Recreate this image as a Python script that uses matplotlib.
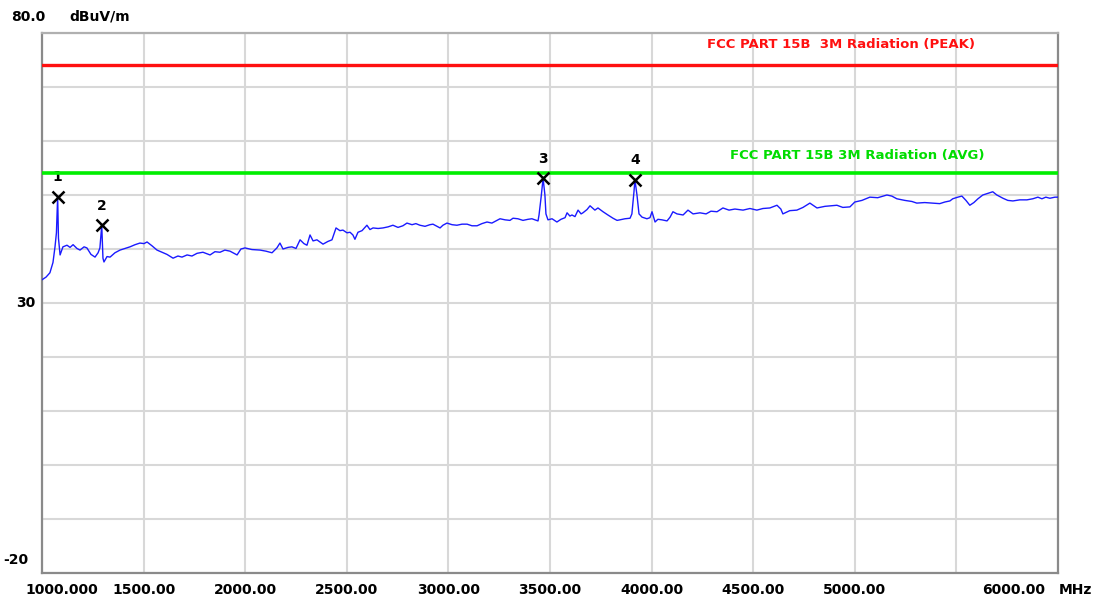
import matplotlib
matplotlib.use("Agg")
import matplotlib.pyplot as plt
from matplotlib.transforms import ScaledTranslation

# trace (MHz, dBuV/m)
freq = [1000, 1020, 1039, 1054, 1064, 1071, 1077, 1081, 1089, 1103, 1123, 1138, 1153, 1172,
        1187, 1207, 1221, 1241, 1261, 1276, 1285, 1294, 1300, 1305, 1320, 1335, 1359, 1384,
        1408, 1433, 1458, 1482, 1502, 1517, 1541, 1566, 1591, 1615, 1645, 1669, 1689, 1714,
        1738, 1763, 1792, 1827, 1851, 1876, 1900, 1925, 1960, 1979, 1999, 2033, 2073, 2102,
        2132, 2156, 2171, 2186, 2211, 2230, 2250, 2270, 2289, 2304, 2319, 2334, 2353, 2368,
        2383, 2407, 2427, 2447, 2466, 2481, 2501, 2516, 2530, 2540, 2555, 2575, 2599, 2614,
        2629, 2654, 2678, 2703, 2727, 2752, 2776, 2796, 2821, 2840, 2860, 2885, 2909, 2924,
        2944, 2959, 2973, 2993, 3018, 3042, 3067, 3092, 3116, 3141, 3165, 3190, 3214, 3239,
        3254, 3279, 3303, 3318, 3342, 3367, 3392, 3411, 3426, 3441, 3446, 3456, 3466, 3475,
        3480, 3490, 3510, 3534, 3554, 3574, 3584, 3598, 3608, 3623, 3638, 3653, 3662, 3682,
        3697, 3712, 3721, 3736, 3761, 3785, 3810, 3830, 3844, 3869, 3894, 3903, 3913, 3918,
        3928, 3938, 3953, 3977, 3992, 4002, 4017, 4031, 4051, 4076, 4091, 4105, 4125, 4155,
        4179, 4204, 4238, 4268, 4292, 4322, 4351, 4381, 4410, 4450, 4484, 4518, 4548, 4582,
        4617, 4636, 4646, 4680, 4715, 4745, 4779, 4814, 4853, 4882, 4912, 4941, 4976, 5000,
        5035, 5074, 5113, 5158, 5182, 5207, 5246, 5281, 5305, 5344, 5384, 5418, 5443, 5468,
        5482, 5507, 5527, 5547, 5566, 5586, 5606, 5630, 5655, 5679, 5699, 5729, 5753, 5778,
        5812, 5847, 5876, 5901, 5921, 5940, 5960, 5985, 6000]
level = [34.3, 34.8, 35.6, 37.5, 40.4, 43.0, 49.7, 42.0, 38.9, 40.4, 40.7, 40.3, 40.8, 40.1,
         39.8, 40.4, 40.2, 39.0, 38.5, 39.3, 40.2, 44.4, 38.3, 37.6, 38.6, 38.5, 39.3, 39.8,
         40.1, 40.4, 40.8, 41.1, 41.0, 41.3, 40.6, 39.8, 39.4, 39.0, 38.3, 38.7, 38.5, 38.9,
         38.7, 39.2, 39.4, 38.9, 39.5, 39.4, 39.8, 39.6, 38.9, 40.0, 40.2, 39.9, 39.8, 39.6,
         39.3, 40.2, 41.1, 40.0, 40.3, 40.4, 40.1, 41.7, 41.0, 40.7, 42.6, 41.5, 41.7, 41.3,
         40.9, 41.4, 41.7, 43.9, 43.4, 43.5, 43.0, 43.1, 42.6, 41.8, 43.1, 43.4, 44.4, 43.6,
         43.9, 43.8, 43.9, 44.1, 44.4, 44.0, 44.3, 44.8, 44.5, 44.7, 44.4, 44.2, 44.5, 44.6,
         44.2, 43.9, 44.4, 44.8, 44.5, 44.4, 44.6, 44.6, 44.3, 44.3, 44.7, 45.0, 44.8, 45.3,
         45.6, 45.4, 45.3, 45.7, 45.6, 45.3, 45.5, 45.6, 45.4, 45.2, 46.3, 49.5, 53.1, 50.0,
         46.5, 45.4, 45.6, 45.0, 45.5, 45.8, 46.7, 46.1, 46.3, 46.0, 47.2, 46.5, 46.7, 47.3,
         48.0, 47.5, 47.2, 47.6, 46.9, 46.3, 45.7, 45.3, 45.4, 45.6, 45.7, 46.5, 50.5, 52.8,
         50.0, 46.5, 45.9, 45.6, 45.8, 46.9, 45.0, 45.5, 45.4, 45.2, 45.9, 46.9, 46.5, 46.3,
         47.2, 46.5, 46.7, 46.5, 47.0, 46.9, 47.6, 47.2, 47.4, 47.2, 47.5, 47.2, 47.5, 47.6,
         48.1, 47.4, 46.5, 47.1, 47.2, 47.7, 48.5, 47.6, 47.9, 48.0, 48.1, 47.7, 47.8, 48.7,
         49.0, 49.6, 49.5, 50.0, 49.8, 49.3, 49.0, 48.8, 48.5, 48.6, 48.5, 48.4, 48.7, 48.9,
         49.3, 49.6, 49.8, 49.0, 48.1, 48.6, 49.3, 50.0, 50.3, 50.6, 50.0, 49.4, 49.0, 48.9,
         49.1, 49.1, 49.3, 49.6, 49.3, 49.6, 49.4, 49.6, 49.6]

# marked peaks
mk_freq = [1077, 1294, 3466, 3918]
mk_level = [49.7, 44.4, 53.1, 52.8]
mk_names = ["1", "2", "3", "4"]

# limit lines
peak_limit = 74
avg_limit = 54
peak_name = "FCC PART 15B  3M Radiation (PEAK)"
avg_name = "FCC PART 15B 3M Radiation (AVG)"

grid_x = [1000, 1500, 2000, 2500, 3000, 3500, 4000, 4500, 5000, 5500, 6000]
x_labels = ["1000.000", "1500.00", "2000.00", "2500.00", "3000.00", "3500.00",
            "4000.00", "4500.00", "5000.00", "", "6000.00"]

plt.rcParams['font.family'] = ['DejaVu Sans']

fig = plt.figure(figsize=(11, 5.98), dpi=100)
ax = fig.add_axes([42 / 1100, 1 - 573 / 598, 1016 / 1100, 540 / 598])

ax.plot(freq, level, color='#1a1aff', lw=1.0, zorder=3)
ax.axhline(peak_limit, color='#ff1010', lw=2.4, zorder=4)
ax.axhline(avg_limit, color='#00ee00', lw=2.6, zorder=4)

ax.plot(mk_freq, mk_level, 'x', color='black', ms=8, mew=1.8, zorder=5)
for f, l, n in zip(mk_freq, mk_level, mk_names):
    ax.annotate(n, (f, l), xytext=(0, 14), textcoords='offset points',
                ha='center', va='center', fontsize=10, fontweight='bold', zorder=3)

ax.text(0.918, 0.978, peak_name, transform=ax.transAxes, color='#ff1010',
        ha='right', va='center', fontsize=9.5, fontweight='bold')
ax.text(0.928, 0.774, avg_name, transform=ax.transAxes, color='#00dd00',
        ha='right', va='center', fontsize=9.5, fontweight='bold')

ax.set_xlim(1000, 6000)
ax.set_ylim(-20, 80)
ax.set_xticks(grid_x)
ax.set_xticklabels(x_labels, fontsize=10, fontweight='bold')
ax.set_yticks(range(-20, 81, 10))
ax.set_yticklabels([])
ax.tick_params(length=0, pad=7)
ax.grid(True, color='#d8d8d8', lw=1.5)
ax.set_axisbelow(True)

# nudge end labels as in the original
labs = ax.get_xticklabels()
labs[0].set_transform(labs[0].get_transform() + ScaledTranslation(0.2, 0, fig.dpi_scale_trans))
labs[-1].set_transform(labs[-1].get_transform() + ScaledTranslation(-0.44, 0, fig.dpi_scale_trans))

for s in ax.spines.values():
    s.set_color('#8a8a8a')
    s.set_linewidth(1.6)
ax.spines['top'].set_color('#b0b0b0')

fig.text(28 / 1100, 1 - 17 / 598, "80.0", ha='center', va='center', fontsize=10, fontweight='bold')
fig.text(100 / 1100, 1 - 17 / 598, "dBuV/m", ha='center', va='center', fontsize=10, fontweight='bold')
fig.text(26 / 1100, 1 - 303 / 598, "30", ha='center', va='center', fontsize=10, fontweight='bold')
fig.text(16 / 1100, 1 - 560 / 598, "-20", ha='center', va='center', fontsize=10, fontweight='bold')
fig.text(1075 / 1100, 1 - 590 / 598, "MHz", ha='center', va='center', fontsize=10, fontweight='bold')

fig.savefig("out.png", dpi=100)
